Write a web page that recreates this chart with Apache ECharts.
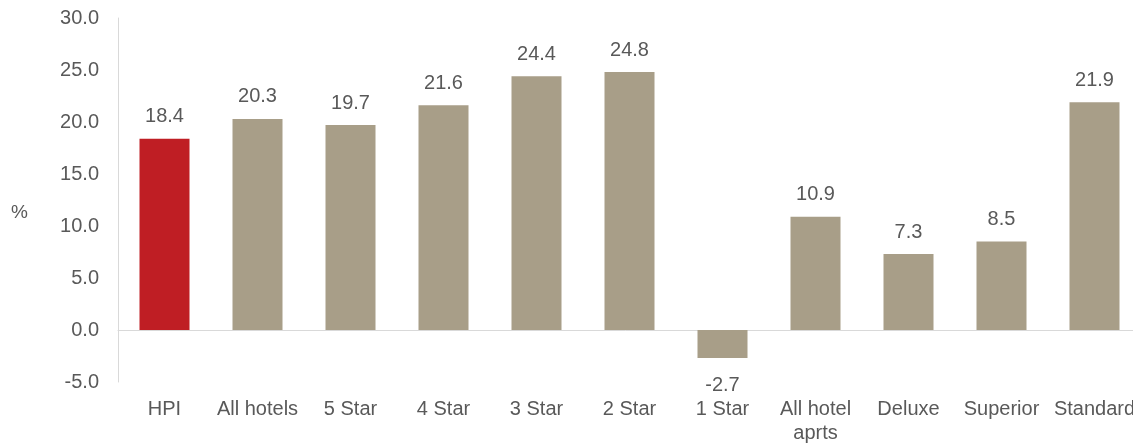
<!DOCTYPE html>
<html><head><meta charset="utf-8">
<script src="https://cdn.jsdelivr.net/npm/echarts@6/dist/echarts.min.js"></script>
<style>html,body{margin:0;padding:0;background:#fff}#c{width:1133px;height:443px}</style>
</head><body><div id="c"></div>
<script>
const categories = ['HPI','All hotels','5 Star','4 Star','3 Star','2 Star','1 Star','All hotel\naprts','Deluxe','Superior','Standard'];
const values = [18.4, 20.3, 19.7, 21.6, 24.4, 24.8, -2.7, 10.9, 7.3, 8.5, 21.9];
const highlight = 'HPI';
const chart = echarts.init(document.getElementById('c'));
const txt = '#595959';
const font = 'Liberation Sans, Arial, sans-serif';
chart.setOption({
  animation: false,
  grid: {left: 118, right: -8, top: 18, bottom: 61, containLabel: false, outerBoundsMode: 'none'},
  graphic: [{type: 'text', left: 11, top: 203, style: {text: '%', fill: txt, font: '19px ' + font}}],
  xAxis: {
    type: 'category', data: categories,
    axisLine: {lineStyle: {color: '#d9d9d9', width: 1}},
    axisTick: {show: false},
    axisLabel: {interval: 0, color: txt, fontSize: 20, fontFamily: font, margin: 15, lineHeight: 24}
  },
  yAxis: {
    type: 'value', min: -5, max: 30, interval: 5,
    axisLine: {show: true, lineStyle: {color: '#d9d9d9'}},
    axisTick: {show: false},
    splitLine: {show: false},
    axisLabel: {color: txt, fontSize: 20, fontFamily: font, margin: 19, formatter: v => v.toFixed(1)}
  },
  series: [{
    type: 'bar', barWidth: 50,
    data: values.map((v, i) => ({
      value: v,
      itemStyle: {color: categories[i] === highlight ? '#BF1E24' : '#A89E88'},
      label: v < 0 ? {position: 'bottom', distance: 17} : {position: 'top'}
    })),
    label: {show: true, color: txt, fontSize: 20, fontFamily: font, distance: 12, formatter: p => p.value.toFixed(1)}
  }]
});
</script></body></html>
